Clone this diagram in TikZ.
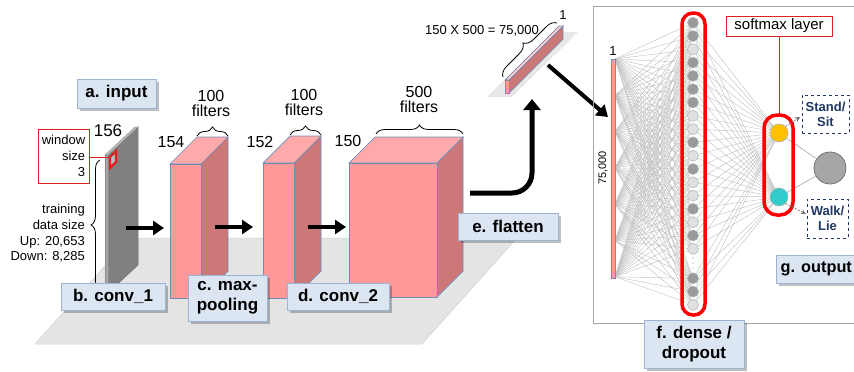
\documentclass[tikz,border=0pt]{standalone}
\usepackage{fontspec}
\setmainfont{Liberation Sans}
\usetikzlibrary{arrows.meta,decorations.pathreplacing,shadows,backgrounds}

\definecolor{floorgray}{HTML}{E4E4E4}
\definecolor{slabside}{HTML}{808080}
\definecolor{slabfront}{HTML}{A6A6A6}
\definecolor{slabtop}{HTML}{BFBFBF}
\definecolor{pinkfront}{HTML}{FF9999}
\definecolor{pinkside}{HTML}{CC7878}
\definecolor{pinktop}{HTML}{FFAAAA}
\definecolor{boxedge}{HTML}{6F8DB5}
\definecolor{labelfill}{HTML}{DCE6F2}
\definecolor{labeledge}{HTML}{9BB4D4}
\definecolor{navy}{HTML}{1F3864}
\definecolor{neurondark}{HTML}{9A9A9A}
\definecolor{neuronlight}{HTML}{E0E0E0}
\definecolor{softyellow}{HTML}{FFC000}
\definecolor{softcyan}{HTML}{33CCCC}
\definecolor{wirecol}{HTML}{C4C4C4}
\definecolor{panelgray}{HTML}{A6A6A6}
\definecolor{markred}{HTML}{E02020}

\newcommand\stagefont{\fontsize{17}{20}\selectfont\bfseries}
\newcommand\dimfont{\fontsize{16}{15.3}\selectfont}
\newcommand\notefont{\fontsize{13}{16}\selectfont}

% a pink 3-D block: left, right, top, bottom of the front face, depth
\newcommand\pinkblock[5]{%
  \filldraw[fill=pinkside, draw=boxedge, line width=0.7pt]
    (#2,#3) -- ({#2+#5},{#3-#5}) -- ({#2+#5},{#4-#5}) -- (#2,#4) -- cycle;
  \filldraw[fill=pinktop, draw=boxedge, line width=0.7pt]
    (#1,#3) -- ({#1+#5},{#3-#5}) -- ({#2+#5},{#3-#5}) -- (#2,#3) -- cycle;
  \filldraw[fill=pinkfront, draw=boxedge, line width=0.7pt]
    (#1,#3) rectangle (#2,#4);
}

\begin{document}
\begin{tikzpicture}[x=1pt, y=-1pt,
  stagelabel/.style={draw=labeledge, fill=labelfill, line width=0.8pt,
    font=\stagefont, align=center, inner sep=0pt,
    drop shadow={shadow xshift=2.5pt, shadow yshift=-2.5pt, fill=black, opacity=0.25}},
  fatarrow/.style={line width=4pt, -{Triangle[length=11pt,width=14pt]}},
  neuron/.style={circle, minimum size=11pt, inner sep=0pt, draw=black!30, line width=0.5pt},
  wire/.style={wirecol, line width=0.45pt},
  classbox/.style={draw=navy, dashed, line width=0.8pt, text=navy, align=center,
    inner sep=0pt, font=\fontsize{13}{15}\selectfont\bfseries},
  dimtext/.style={font=\dimfont, align=center, inner sep=0pt},
  bracedeco/.style={decorate, decoration={brace, amplitude=9pt}, line width=0.8pt}
]
\useasboundingbox (0,0) rectangle (854,372);
\clip (0,0) rectangle (854,372);

% ---------- ground plane ----------
\filldraw[fill=floorgray, draw=black!18, line width=0.5pt]
  (35,344) -- (422,344) -- (517,238) -- (130,238) -- cycle;

% ---------- input sheet ----------
\filldraw[fill=slabside, draw=black!55, line width=0.5pt]
  (108,155) -- (138,127) -- (138,265) -- (108,293) -- cycle;
\filldraw[fill=slabtop, draw=black!45, line width=0.4pt]
  (105,155) -- (135,127) -- (138,127) -- (108,155) -- cycle;
\filldraw[fill=slabfront, draw=black!45, line width=0.4pt]
  (105,155) rectangle (108,293);
\coordinate (mark) at (110,157);
\filldraw[fill=black!25, draw=markred, line width=2.2pt]
  (110,157) -- (116,151) -- (116,162) -- (110,168) -- cycle;

\node[dimtext, font=\fontsize{17}{19}\selectfont] (n156) at (108,131) {156};

\node[draw=markred, line width=0.9pt, minimum width=51pt, minimum height=54pt,
      align=right, inner sep=0pt, font=\notefont] (win) at (63.5,156)
      {window\\size\\3};
\draw[markred, line width=1pt] (win.east |- mark) -- (mark);

\draw[bracedeco] (100,290) -- (100,160);
\node[anchor=east, align=right, inner sep=0pt, font=\fontsize{13}{15.7}\selectfont]
  (tds) at (85,233.5) {training\\data size\\Up: 20,653\\Down: 8,285};

% ---------- feature maps ----------
\pinkblock{170}{201}{164}{298}{27}
\pinkblock{263}{294}{163}{298}{27}
\pinkblock{349}{437}{163}{297}{26}

\node[dimtext] (n154) at (171,142) {154};
\node[dimtext] (n152) at (260,142) {152};
\node[dimtext] (n150) at (348,141) {150};

\draw[bracedeco] (197,136) -- (228,136);
\draw[bracedeco] (290,135) -- (321,135);
\draw[bracedeco] (376,134) -- (463,134);
\node[dimtext, anchor=south] (f1) at (211,117) {100\\filters};
\node[dimtext, anchor=south] (f2) at (304,116) {100\\filters};
\node[dimtext, anchor=south] (f3) at (419,113) {500\\filters};

% ---------- arrows between stages ----------
\coordinate (a1s) at (126,228); \coordinate (a1e) at (164,228);
\coordinate (a2s) at (215,227); \coordinate (a2e) at (253,227);
\coordinate (a3s) at (308,227); \coordinate (a3e) at (346,227);
\draw[fatarrow] (a1s) -- (a1e);
\draw[fatarrow] (a2s) -- (a2e);
\draw[fatarrow] (a3s) -- (a3e);

\coordinate (fl1) at (470,193);
\coordinate (fl2) at (532,99);
\draw[line width=5pt, rounded corners=20pt, -{Triangle[length=11pt,width=17pt]}]
  (fl1) -- (532,193) -- (fl2);

% ---------- flattened vector ----------
\fill[black!9] (487,97) -- (512,97) -- (578,32) -- (553,32) -- cycle;
\filldraw[fill=pinkside, draw=boxedge, line width=0.7pt]
  (509,80) -- (563,26) -- (563,39) -- (509,93) -- cycle;
\filldraw[fill=pinktop!60!white, draw=boxedge, line width=0.7pt]
  (505,80) -- (559,26) -- (563,26) -- (509,80) -- cycle;
\filldraw[fill=pinkfront, draw=boxedge, line width=0.7pt]
  (505,80) rectangle (509,93);
\draw[decorate, decoration={brace, amplitude=10pt}, line width=0.8pt]
  (503,77) -- (557,23);
\node[inner sep=0pt, font=\notefont] (flatdim) at (482,31) {150 X 500 = 75,000};
\node[inner sep=0pt, font=\notefont] (flatone) at (563,15) {1};

\coordinate (fb1) at (548,65);
\coordinate (fb2) at (608,117);
\draw[fatarrow] (fb1) -- (fb2);

% ---------- dense network panel ----------
\draw[panelgray, line width=0.8pt] (593,6) rectangle (880,323);

\filldraw[fill=pinkfront, draw=boxedge, line width=0.7pt] (611,59) rectangle (615,278);
\node[inner sep=0pt, font=\notefont] (vone) at (613,51) {1};
\node[inner sep=0pt, rotate=90, font=\fontsize{11}{12}\selectfont] (vlen) at (603,168) {75,000};
\foreach \k in {0,...,6} { \coordinate (src\k) at (615,{59+36.3*\k}); }

\foreach \yy/\cc [count=\i] in {22.7/neurondark, 36.0/neurondark, 49.3/neuronlight,
    62.6/neurondark, 75.9/neurondark, 89.2/neurondark, 102.5/neurondark,
    115.8/neuronlight, 129.1/neuronlight, 142.4/neurondark, 155.7/neuronlight,
    169.0/neurondark, 182.3/neuronlight, 195.6/neuronlight, 208.9/neurondark,
    222.2/neuronlight, 235.5/neurondark, 248.8/neuronlight, 278.3/neurondark,
    291.6/neurondark, 304.9/neuronlight}
  { \node[neuron, fill=\cc] (n\i) at (693,\yy) {}; }
\foreach \yy in {258,263,268} { \fill[black!45] (693,\yy) circle (0.7pt); }

\node[circle, minimum size=18pt, inner sep=0pt, fill=softyellow, draw=black!30, line width=0.6pt] (sy) at (779,133) {};
\node[circle, minimum size=18pt, inner sep=0pt, fill=softcyan, draw=black!30, line width=0.6pt] (sc) at (779,197) {};
\node[circle, minimum size=32pt, inner sep=0pt, fill=black!35, draw=black!55, line width=0.8pt] (outc) at (830,168) {};
\draw[black!35, line width=0.6pt] (sy) -- (outc);
\draw[black!35, line width=0.6pt] (sc) -- (outc);

\begin{scope}[on background layer]
  \fill[white] (0,0) rectangle (854,372);
  \foreach \k in {0,...,6} { \foreach \i in {1,...,21} { \draw[wire] (src\k) -- (n\i); } }
  \foreach \i in {1,...,21} { \draw[wire] (n\i) -- (sy); \draw[wire] (n\i) -- (sc); }
\end{scope}

\draw[red, line width=3.5pt, rounded corners=11pt] (682,13) rectangle (705,315);
\draw[red, line width=3.5pt, rounded corners=13pt] (764,115) rectangle (793,215);

\node[draw=markred, line width=0.9pt, minimum width=106pt, minimum height=20pt,
      inner sep=0pt, font=\fontsize{15}{16}\selectfont] (smx) at (779,26) {softmax layer};
\coordinate (smtop) at (779,115);
\draw[markred, line width=0.8pt] (smx.south) -- (smtop);

\node[classbox, minimum width=47pt, minimum height=38pt] (stand) at (825.5,114) {Stand/\\Sit};
\node[classbox, minimum width=41pt, minimum height=39pt] (walk) at (827.5,218.5) {Walk/\\Lie};
\coordinate (stp) at (800,117);
\coordinate (wkp) at (806,214);
\draw[black!55, dash pattern=on 2pt off 1.5pt, line width=0.7pt, -{Stealth[length=5pt,width=5pt]}] (sy.north east) -- (stp);
\draw[black!55, dash pattern=on 2pt off 1.5pt, line width=0.7pt, -{Stealth[length=5pt,width=5pt]}] (sc.south east) -- (wkp);

% ---------- stage labels ----------
\node[stagelabel, minimum width=79pt, minimum height=29pt] (la) at (116.5,93.5) {a. input};
\node[stagelabel, minimum width=104pt, minimum height=27pt] (lb) at (113,296.5) {b. conv\_1};
\node[stagelabel, minimum width=79pt, minimum height=46pt] (lc) at (227.5,298) {c. max-\\pooling};
\node[stagelabel, minimum width=102pt, minimum height=27pt] (ld) at (338,296.5) {d. conv\_2};
\node[stagelabel, minimum width=100pt, minimum height=27pt] (le) at (508,226.5) {e. flatten};
\node[stagelabel, minimum width=100pt, minimum height=48pt] (lf) at (694,344) {f. dense /\\dropout};
% the output label runs past the right edge; its text stays inside
\node[stagelabel, anchor=west, minimum width=90pt, minimum height=28pt] (lg) at (776,269) {};
\node[anchor=west, inner sep=0pt, font=\fontsize{16.3}{19}\selectfont\bfseries] (lgt) at (780.5,269) {g. output};
\end{tikzpicture}
\end{document}
